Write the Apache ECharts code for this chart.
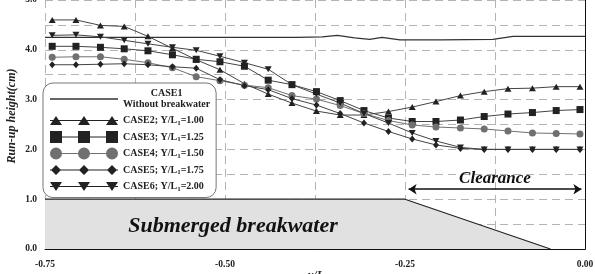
<!DOCTYPE html>
<html><head><meta charset="utf-8">
<script src="https://cdn.jsdelivr.net/npm/echarts@6/dist/echarts.min.js"></script>
<style>html,body{margin:0;padding:0;background:#fff}#c{width:595px;height:274px}</style>
</head><body><div id="c"></div>
<script>
// ---- data ----
const xPos = [-0.74, -0.707, -0.673, -0.64, -0.607, -0.573, -0.54, -0.507, -0.473, -0.44, -0.407, -0.373, -0.34, -0.307, -0.273, -0.24, -0.207, -0.173, -0.14, -0.107, -0.073, -0.04, -0.007];
const case1X = [-0.75, -0.55, -0.40, -0.365, -0.344, -0.32, -0.299, -0.282, -0.257, -0.20, -0.128, -0.10, 0];
const case1Y = [4.25, 4.25, 4.25, 4.26, 4.29, 4.24, 4.21, 4.25, 4.20, 4.20, 4.21, 4.27, 4.27];
const case2 = [4.60,4.60,4.49,4.47,4.27,4.03,3.80,3.60,3.32,3.11,2.93,2.77,2.69,2.69,2.76,2.85,2.96,3.08,3.16,3.22,3.23,3.26,3.26];
const case3 = [4.07,4.07,4.05,4.02,3.98,3.90,3.81,3.76,3.67,3.39,3.30,3.16,2.98,2.78,2.63,2.56,2.56,2.59,2.66,2.71,2.74,2.78,2.80];
const case4 = [3.85,3.86,3.86,3.81,3.74,3.64,3.46,3.38,3.29,3.24,3.08,3.01,2.88,2.72,2.58,2.49,2.45,2.43,2.41,2.37,2.33,2.32,2.31];
const case5 = [3.70,3.70,3.71,3.72,3.70,3.66,3.63,3.40,3.28,3.20,3.02,2.89,2.72,2.53,2.36,2.21,2.09,2.02,2.00,2.00,2.00,2.00,2.00];
const case6 = [4.29,4.30,4.26,4.19,4.12,4.05,3.99,3.87,3.74,3.61,3.30,3.11,2.93,2.72,2.53,2.33,2.17,2.04,2.00,2.00,2.00,2.00,2.00];
const breakwaterX = [-0.75, -0.25, -0.048];
const breakwaterY = [1.0, 1.0, 0.0];
const clearanceX = [-0.245, -0.005];
const clearanceY = [1.2, 1.2];
const xTicks = [-0.75, -0.5, -0.25, 0];
const xTickLabels = ['-0.75', '-0.50', '-0.25', '0.00'];
const yTicks = [0, 1, 2, 3, 4, 5];
const yTickLabels = ['0.0', '1.0', '2.0', '3.0', '4.0', '5.0'];
const seriesNames = ['CASE1', 'CASE2', 'CASE3', 'CASE4', 'CASE5', 'CASE6'];
const legendLabels = {
  CASE1: '{c|CASE1}\n{c|Without breakwater}',
  CASE2: 'CASE2; Y/L{s|1}=1.00',
  CASE3: 'CASE3; Y/L{s|1}=1.25',
  CASE4: 'CASE4; Y/L{s|1}=1.50',
  CASE5: 'CASE5; Y/L{s|1}=1.75',
  CASE6: 'CASE6; Y/L{s|1}=2.00'
};

// ---- chart ----
const FONT = '"Liberation Serif", "Times New Roman", serif';
const chart = echarts.init(document.getElementById('c'));
const pair = (xs, ys) => xs.map((x, i) => [x, ys[i]]);
const DARK = '#222';
const LINE = '#444';
const GREY = '#707070';
function mk(name, ys, symbol, size, color, lineColor, rotate) {
  return {
    type: 'line', name, data: pair(xPos, ys), symbol, symbolSize: size, symbolRotate: rotate || 0,
    showSymbol: true, itemStyle: { color, borderWidth: 0 }, lineStyle: { color: lineColor, width: 1 },
    z: 4, emphasis: { disabled: true }
  };
}
const L = 'M0 4L68 4L68 5L0 5Z';
const icons = {
  CASE1: 'path://M0 0L68 0L68 1.3L0 1.3Z',
  CASE2: 'path://' + L + 'M0 9L6 0L12 9Z M28 9L34 0L40 9Z M56 9L62 0L68 9Z',
  CASE3: 'path://M0 5.5L68 5.5L68 6.5L0 6.5Z M0 0L12 0L12 12L0 12Z M28 0L40 0L40 12L28 12Z M56 0L68 0L68 12L56 12Z',
  CASE4: 'path://M0 5.5L68 5.5L68 6.5L0 6.5Z M0 6A6 6 0 1 1 12 6A6 6 0 1 1 0 6Z M28 6A6 6 0 1 1 40 6A6 6 0 1 1 28 6Z M56 6A6 6 0 1 1 68 6A6 6 0 1 1 56 6Z',
  CASE5: 'path://M0 4.5L68 4.5L68 5.5L0 5.5Z M1 5L6 0L11 5L6 10Z M29 5L34 0L39 5L34 10Z M57 5L62 0L67 5L62 10Z',
  CASE6: 'path://' + L + 'M0 0L12 0L6 9Z M28 0L40 0L34 9Z M56 0L68 0L62 9Z'
};
const iconColors = { CASE1: '#333', CASE2: DARK, CASE3: DARK, CASE4: GREY, CASE5: DARK, CASE6: DARK };

const option = {
  animation: false,
  backgroundColor: '#fff',
  grid: { left: 45, right: 10, top: 0, bottom: 25, containLabel: false, outerBoundsMode: 'none' },
  xAxis: {
    type: 'value', min: -0.75, max: 0, interval: 0.125,
    axisLine: { show: true, onZero: false, lineStyle: { color: '#111', width: 1 } },
    axisTick: { show: false },
    splitLine: { show: true, lineStyle: { color: '#b3b3b3', type: [8, 5], width: 1 } },
    axisLabel: {
      margin: 11, fontFamily: FONT, fontWeight: 'bold', fontSize: 9.5, color: '#222',
      showMinLabel: true, showMaxLabel: true, hideOverlap: false,
      formatter: v => { const i = xTicks.findIndex(t => Math.abs(t - v) < 1e-6); return i >= 0 ? xTickLabels[i] : ''; }
    }
  },
  yAxis: [{
    type: 'value', min: 0, max: 5, interval: 0.5,
    axisLine: { show: true, lineStyle: { color: '#111', width: 1 } },
    axisTick: { show: false },
    splitLine: { show: true, lineStyle: { color: '#b3b3b3', type: [8, 5], width: 1 } },
    axisLabel: {
      margin: 8, fontFamily: FONT, fontWeight: 'bold', fontSize: 9.5, color: '#222',
      formatter: v => { const i = yTicks.findIndex(t => Math.abs(t - v) < 1e-6); return i >= 0 ? yTickLabels[i] : ''; }
    }
  }, {
    type: 'value', min: 0, max: 5, interval: 0.5, position: 'right',
    axisLine: { show: true, lineStyle: { color: '#111', width: 1 } },
    axisTick: { show: false }, axisLabel: { show: false }, splitLine: { show: false }
  }],
  legend: {
    orient: 'vertical', left: 43, top: 83, padding: [5, 6, 5, 7], itemGap: 4.5,
    itemWidth: 68, itemHeight: 12, backgroundColor: '#fff', borderColor: '#777', borderWidth: 1, borderRadius: 10,
    selectedMode: false,
    data: seriesNames.map(n => ({ name: n, icon: icons[n], itemStyle: { color: iconColors[n], borderWidth: 0 } })),
    formatter: n => legendLabels[n],
    textStyle: {
      fontFamily: FONT, fontWeight: 'bold', fontSize: 10, color: '#222', lineHeight: 12,
      rich: {
        c: { fontFamily: FONT, fontWeight: 'bold', fontSize: 10, color: '#222', lineHeight: 11, align: 'center' },
        s: { fontFamily: FONT, fontWeight: 'bold', fontSize: 7, color: '#222', lineHeight: 7, verticalAlign: 'bottom' }
      }
    },
    z: 10
  },
  series: [
    {
      type: 'line', name: 'Breakwater', data: pair(breakwaterX, breakwaterY), symbol: 'none',
      lineStyle: { color: '#222', width: 1.2 }, areaStyle: { color: '#e1e1e1', opacity: 1, origin: 'start' }, z: 2,
      emphasis: { disabled: true },
      markLine: {
        silent: true, symbol: ['arrow', 'arrow'], symbolSize: 8,
        lineStyle: { color: '#111', width: 1.5, type: 'solid' },
        label: { show: true, position: 'middle', formatter: 'Clearance', distance: 2,
          fontFamily: FONT, fontWeight: 'bold', fontStyle: 'italic', fontSize: 17, color: '#111' },
        data: [[{ coord: [clearanceX[0], clearanceY[0]] }, { coord: [clearanceX[1], clearanceY[1]] }]]
      }
    },
    {
      type: 'line', name: 'CASE1', data: pair(case1X, case1Y), symbol: 'none', itemStyle: { color: '#333' },
      lineStyle: { color: '#333', width: 1.2 }, z: 3, emphasis: { disabled: true }
    },
    mk('CASE2', case2, 'triangle', [7, 6], DARK, LINE),
    mk('CASE3', case3, 'rect', 7, DARK, LINE),
    mk('CASE4', case4, 'circle', 7, GREY, GREY),
    mk('CASE5', case5, 'diamond', [6, 7], DARK, LINE),
    mk('CASE6', case6, 'triangle', [7, 6], DARK, LINE, 180)
  ],
  graphic: [
    { type: 'text', x: 233, y: 226, z: 20, style: { text: 'Submerged breakwater', font: 'italic bold 22px ' + FONT, fill: '#111', textAlign: 'center', textVerticalAlign: 'middle' } },
    { type: 'text', x: 12, y: 116, rotation: Math.PI / 2, z: 20, style: { text: 'Run-up height(cm)', font: 'italic bold 12px ' + FONT, fill: '#222', textAlign: 'center', textVerticalAlign: 'middle' } },
    { type: 'text', x: 318, y: 270, z: 20, style: { text: 'y/L{s|1}', font: 'italic bold 12px ' + FONT, fill: '#222', textAlign: 'center', textVerticalAlign: 'top',
      rich: { s: { font: 'italic bold 8px ' + FONT, fill: '#222', verticalAlign: 'bottom', lineHeight: 8 } } } }
  ]
};
chart.setOption(option);
</script>
</body></html>
